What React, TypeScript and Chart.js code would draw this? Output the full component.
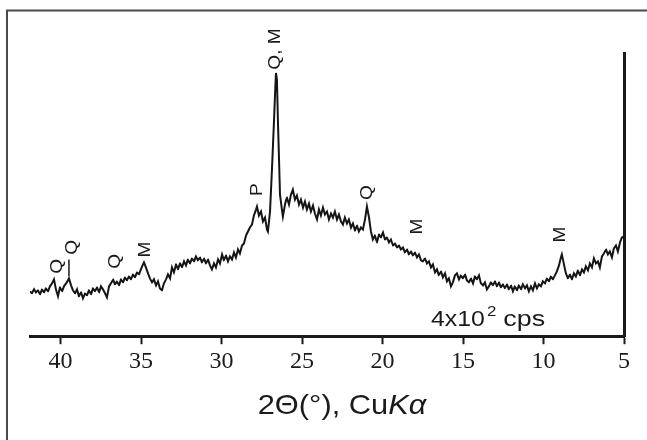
import { useEffect, useRef } from "react";
import { Chart, registerables } from "chart.js";

Chart.register(...registerables);

// 2θ (degrees, Cu Kα) of each sampled point of the trace
const twoTheta = [
  41.9, 41.78, 41.65, 41.53, 41.4, 41.28, 41.15, 41.03, 40.91, 40.78, 40.66, 40.53, 40.41, 40.29, 40.16, 40.04,
  39.91, 39.79, 39.66, 39.54, 39.48, 39.35, 39.23, 39.1, 38.98, 38.86, 38.73, 38.61, 38.48, 38.36, 38.24, 38.11,
  37.99, 37.86, 37.74, 37.61, 37.49, 37.37, 37.24, 37.12, 36.99, 36.87, 36.74, 36.62, 36.5, 36.37, 36.25, 36.12,
  36.0, 35.88, 35.75, 35.63, 35.5, 35.38, 35.25, 35.13, 35.01, 34.88, 34.82, 34.7, 34.57, 34.45, 34.32, 34.2,
  34.07, 33.95, 33.83, 33.7, 33.58, 33.45, 33.33, 33.2, 33.08, 32.96, 32.83, 32.71, 32.58, 32.46, 32.33, 32.21,
  32.09, 31.96, 31.84, 31.71, 31.59, 31.47, 31.34, 31.22, 31.09, 30.97, 30.84, 30.72, 30.6, 30.47, 30.35, 30.22,
  30.1, 29.97, 29.85, 29.73, 29.6, 29.48, 29.35, 29.23, 29.11, 28.98, 28.86, 28.73, 28.61, 28.48, 28.36, 28.24,
  28.11, 27.99, 27.86, 27.8, 27.68, 27.55, 27.43, 27.3, 27.18, 27.12, 26.99, 26.87, 26.74, 26.68, 26.62, 26.56,
  26.5, 26.43, 26.37, 26.25, 26.19, 26.06, 25.94, 25.81, 25.69, 25.57, 25.44, 25.32, 25.19, 25.07, 24.94, 24.82,
  24.7, 24.57, 24.45, 24.32, 24.2, 24.07, 23.95, 23.83, 23.7, 23.58, 23.45, 23.33, 23.2, 23.08, 22.96, 22.83,
  22.71, 22.58, 22.46, 22.34, 22.21, 22.09, 21.96, 21.84, 21.71, 21.59, 21.47, 21.34, 21.22, 21.09, 20.97, 20.84,
  20.72, 20.6, 20.47, 20.35, 20.22, 20.1, 19.97, 19.85, 19.73, 19.6, 19.48, 19.35, 19.23, 19.1, 18.98, 18.86,
  18.73, 18.61, 18.48, 18.36, 18.24, 18.11, 17.99, 17.86, 17.74, 17.61, 17.49, 17.37, 17.24, 17.12, 16.99, 16.87,
  16.74, 16.62, 16.5, 16.37, 16.25, 16.12, 16.0, 15.88, 15.75, 15.63, 15.5, 15.38, 15.25, 15.13, 15.01, 14.88,
  14.76, 14.63, 14.51, 14.38, 14.26, 14.14, 14.01, 13.89, 13.76, 13.64, 13.52, 13.39, 13.27, 13.14, 13.02, 12.89,
  12.77, 12.65, 12.52, 12.4, 12.27, 12.15, 12.02, 11.9, 11.78, 11.65, 11.53, 11.4, 11.28, 11.15, 11.03, 10.91,
  10.78, 10.66, 10.53, 10.41, 10.29, 10.16, 10.04, 9.91, 9.79, 9.66, 9.54, 9.42, 9.29, 9.17, 9.04, 8.92,
  8.86, 8.73, 8.61, 8.48, 8.36, 8.24, 8.11, 7.99, 7.86, 7.74, 7.61, 7.49, 7.37, 7.24, 7.12, 6.99,
  6.87, 6.74, 6.62, 6.5, 6.37, 6.25, 6.12, 6.0, 5.88, 5.75, 5.63, 5.5, 5.38, 5.25, 5.13, 5.0,
];

// intensity (arbitrary units, 284 = full height of the right-hand bar)
const intensity = [
  45, 43, 47, 44, 46, 42, 47, 44, 48, 45, 50, 53, 57, 47, 40, 49,
  45, 50, 53, 56, 58, 51, 46, 43, 47, 40, 44, 38, 43, 41, 46, 42,
  48, 45, 49, 44, 50, 47, 43, 39, 50, 53, 57, 52, 55, 51, 57, 54,
  59, 56, 60, 57, 62, 59, 64, 62, 67, 72, 74, 69, 63, 58, 54, 57,
  51, 55, 48, 46, 53, 57, 62, 58, 69, 64, 72, 67, 73, 69, 75, 71,
  77, 73, 78, 75, 80, 76, 79, 74, 78, 73, 77, 71, 67, 73, 69, 77,
  73, 82, 76, 81, 75, 80, 77, 84, 79, 87, 83, 91, 93, 101, 105, 109,
  112, 121, 127, 130, 121, 125, 115, 119, 107, 105, 125, 167, 217, 242, 264, 257,
  217, 177, 142, 127, 120, 132, 139, 132, 142, 147, 137, 141, 132, 137, 129, 135,
  127, 133, 125, 131, 123, 117, 127, 121, 129, 122, 125, 117, 123, 119, 125, 117,
  122, 115, 112, 119, 113, 117, 109, 113, 106, 111, 105, 109, 107, 117, 130, 119,
  105, 97, 101, 94, 102, 99, 104, 97, 99, 94, 97, 91, 93, 89, 91, 87,
  89, 84, 87, 82, 85, 81, 84, 79, 82, 76, 75, 78, 73, 75, 69, 72,
  64, 67, 61, 65, 59, 63, 55, 58, 50, 54, 61, 63, 57, 61, 58, 62,
  56, 54, 58, 53, 60, 57, 61, 53, 51, 54, 47, 50, 54, 51, 55, 50,
  54, 49, 52, 48, 52, 47, 51, 45, 50, 46, 51, 47, 52, 48, 51, 45,
  50, 46, 53, 48, 52, 50, 55, 53, 58, 55, 60, 57, 61, 65, 71, 79,
  82, 72, 63, 58, 62, 57, 63, 60, 66, 61, 67, 64, 70, 66, 73, 69,
  78, 73, 75, 69, 80, 83, 87, 82, 85, 79, 88, 91, 85, 94, 99, 100,
];

const xTickValues = [40, 35, 30, 25, 20, 15, 10, 5];
const xMin = 5;
const xMax = 41.9;
const yMax = 284;

// phase labels: text, 2θ position, height (same units as intensity)
const peakLabels = ["Q", "Q", "Q", "M", "P", "Q, M", "Q", "M", "M"];
const peakLabelTheta = [40.22, 39.3, 36.62, 34.76, 27.8, 26.68, 20.97, 17.86, 8.98];
const peakLabelHeight = [70, 89, 75, 87, 147, 288, 144, 110, 102];

// short tick mark under the second Q label
const markTheta = [39.48];
const markFrom = [60];
const markTo = [77];

const axisTitle = "2Θ(°), Cu";
const axisTitleItalic = "Kα";
const scaleText = ["4x10", "2", "cps"];

const SANS = '"Liberation Sans", Arial, sans-serif';

export default function App() {
  const ref = useRef<HTMLCanvasElement | null>(null);

  useEffect(() => {
    const canvas = ref.current;
    if (!canvas) return;

    const overlay = {
      id: "overlay",
      afterDraw(chart: any) {
        const ctx = chart.ctx as CanvasRenderingContext2D;
        const xs = chart.scales.x;
        const ys = chart.scales.y;
        const area = chart.chartArea;
        ctx.save();

        // outer frame (top + left edges)
        ctx.strokeStyle = "#4a4a4a";
        ctx.lineWidth = 2;
        ctx.beginPath();
        ctx.moveTo(7, 440);
        ctx.lineTo(7, 10.5);
        ctx.lineTo(647, 10.5);
        ctx.stroke();

        // peak labels (rotated)
        ctx.fillStyle = "#1a1a1a";
        ctx.font = `17px ${SANS}`;
        ctx.textAlign = "center";
        ctx.textBaseline = "middle";
        peakLabels.forEach((t, i) => {
          const px = xs.getPixelForValue(peakLabelTheta[i]);
          const py = ys.getPixelForValue(peakLabelHeight[i]);
          ctx.save();
          ctx.translate(px, py);
          ctx.rotate(-Math.PI / 2);
          ctx.scale(1.12, 1);
          ctx.fillText(t, 0, 0);
          ctx.restore();
        });

        // tick mark line
        ctx.strokeStyle = "#1a1a1a";
        ctx.lineWidth = 1.5;
        markTheta.forEach((t, i) => {
          const px = xs.getPixelForValue(t);
          ctx.beginPath();
          ctx.moveTo(px, ys.getPixelForValue(markFrom[i]));
          ctx.lineTo(px, ys.getPixelForValue(markTo[i]));
          ctx.stroke();
        });

        // scale text "4x10² cps"
        ctx.textAlign = "left";
        ctx.textBaseline = "alphabetic";
        const drawStretched = (txt: string, x: number, y: number, sx: number) => {
          ctx.save();
          ctx.translate(x, y);
          ctx.scale(sx, 1);
          ctx.fillText(txt, 0, 0);
          ctx.restore();
          return ctx.measureText(txt).width * sx;
        };
        ctx.font = `22px ${SANS}`;
        const sx0 = area.right - 193;
        const sy0 = area.bottom - 10;
        const w1 = drawStretched(scaleText[0], sx0, sy0, 1.13);
        ctx.font = `15px ${SANS}`;
        const w2 = drawStretched(scaleText[1], sx0 + w1 + 2, sy0 - 10, 1.13);
        ctx.font = `22px ${SANS}`;
        drawStretched(scaleText[2], sx0 + w1 + w2 + 9, sy0, 1.22);

        // axis title with italic K alpha
        const stretch = 1.1;
        ctx.font = `28px ${SANS}`;
        const wa = ctx.measureText(axisTitle).width * stretch;
        ctx.font = `italic 28px ${SANS}`;
        const wb = ctx.measureText(axisTitleItalic).width * stretch;
        const cx = (area.left + area.right) / 2 + 15;
        const by = area.bottom + 78;
        const start = cx - (wa + wb) / 2;
        ctx.font = `28px ${SANS}`;
        drawStretched(axisTitle, start, by, stretch);
        ctx.font = `italic 28px ${SANS}`;
        drawStretched(axisTitleItalic, start + wa, by, stretch);

        ctx.restore();
      },
    };

    const chart = new Chart(canvas, {
      type: "line",
      data: {
        datasets: [
          {
            data: twoTheta.map((x, i) => ({ x, y: intensity[i] })),
            borderColor: "#151515",
            borderWidth: 2,
            pointRadius: 0,
            tension: 0.001,
            fill: false,
            borderJoinStyle: "miter",
          },
        ],
      },
      options: {
        responsive: false,
        animation: false,
        layout: { padding: { left: 30, right: 23, top: 53, bottom: 61 } },
        plugins: {
          legend: { display: false },
          tooltip: { enabled: false },
          title: { display: false },
        },
        scales: {
          x: {
            type: "linear",
            reverse: true,
            min: xMin,
            max: xMax,
            position: "bottom",
            afterBuildTicks: (scale: any) => {
              scale.ticks = xTickValues.map((v) => ({ value: v }));
            },
            ticks: {
              color: "#1a1a1a",
              font: { family: '"Liberation Serif", "Times New Roman", serif', size: 24 },
              padding: 3,
              maxRotation: 0,
              autoSkip: false,
            },
            grid: {
              display: true,
              drawOnChartArea: false,
              drawTicks: true,
              tickLength: 8,
              tickWidth: 2,
              tickColor: "#1a1a1a",
            },
            border: { display: true, color: "#1a1a1a", width: 3 },
          },
          y: {
            type: "linear",
            position: "right",
            min: 0,
            max: yMax,
            ticks: { display: false },
            grid: { display: false, drawTicks: false },
            border: { display: true, color: "#1a1a1a", width: 3 },
          },
        },
      },
      plugins: [overlay],
    });

    return () => chart.destroy();
  }, []);

  return (
    <div style={{ position: "fixed", left: 0, top: 0, width: 647, height: 440, background: "#fff" }}>
      <canvas ref={ref} width={647} height={440} style={{ display: "block" }} />
    </div>
  );
}
